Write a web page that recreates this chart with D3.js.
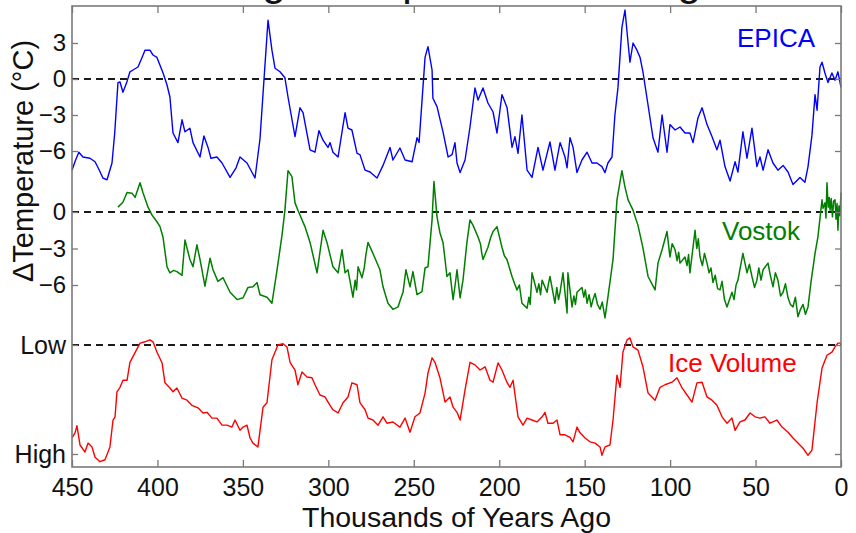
<!DOCTYPE html>
<html>
<head>
<meta charset="utf-8">
<script src="https://cdn.jsdelivr.net/npm/d3@7"></script>
<style>
  body { margin: 0; background: #fff; }
  svg { display: block; font-family: 'Liberation Sans', Arial, sans-serif; }
  .tick text { fill: #111; }
</style>
</head>
<body>
<div id="chart"></div>
<script>
// Years ago (thousands) and values
var xTicks = [450, 400, 350, 300, 250, 200, 150, 100, 50, 0]
var epicaTicks = [3, 0, -3, -6]
var vostokTicks = [0, -3, -6]
var iceTicks = [3.3, 5.0]
var iceTickLabels = ['Low', 'High']

// EPICA Dome C, temperature anomaly (deg C)
var epica = [
  [450, -7.6], [448, -6.8], [446, -6.1], [443.6, -6.5], [439.5, -6.6], [436.5, -6.9], [434, -7.6],
  [431.9, -8.25], [429.5, -8.4], [426.6, -7.0], [425, -4.5], [423.1, -0.3], [421.9, -0.25], [420.2, -1.1],
  [418, -0.3], [416.1, 0.6], [414.3, 0.75], [411.4, 1.0], [409, 1.8], [407.3, 2.4], [404.4, 2.4],
  [402.6, 2.0], [400.3, 1.8], [396.7, 0.5], [394.4, -0.5], [392.7, -1.5], [390.9, -4.5], [388, -5.3],
  [385.6, -3.4], [383.9, -4.4], [381, -4.1], [379.2, -5.3], [375.1, -6.5], [372.8, -4.75], [370.4, -5.7],
  [368.7, -6.6], [365.2, -6.5], [362.2, -7.0], [357.5, -8.2], [354, -7.4], [351.7, -6.5], [347.6, -7.0],
  [342.9, -8.25], [340, -5], [338.2, -1.2], [335.3, 4.9], [333, 2.4], [331.2, 0.9], [328.3, 0.6],
  [325.4, 0.1], [323.6, -1.5], [319.5, -4.8], [316.6, -2.4], [314.8, -2.8], [310.7, -5.9], [307.8, -6.1],
  [305.5, -4.3], [303.1, -5.1], [300.2, -5.7], [299, -5.3], [297.3, -6.1], [294.3, -6.5], [290.2, -2.8],
  [288.5, -4.1], [286.2, -4.25], [283.2, -6.2], [281.5, -6.3], [278.5, -7.6], [275.6, -7.75], [271.5, -8.25],
  [268, -7.2], [263.9, -5.7], [262.2, -6.75], [258.1, -5.75], [255.1, -6.75], [251, -6.9], [248.1, -4.9],
  [246.9, -5.3], [243.4, 1.8], [241.7, 2.7], [239.3, 0.75], [238.8, -1.6], [236.4, -2.3], [232.9, -4.4],
  [229.9, -6.5], [227.6, -6.3], [225.9, -5.3], [224.7, -7.0], [222.9, -7.8], [220, -6.75], [217.1, -4.0],
  [214.2, -0.75], [212.4, -1.75], [209.5, -0.75], [206.6, -2.0], [203.6, -2.75], [201.3, -4.5], [198.4, -1.3],
  [195.4, -2.4], [192.5, -5.7], [190.8, -4.8], [189, -6.2], [186.7, -3.0], [183.7, -7.6], [180.8, -8.2],
  [177.3, -5.7], [174.4, -7.6], [170.3, -5.25], [167.4, -7.6], [164.4, -5.3], [161.5, -6.5], [160.3, -7.4],
  [158.6, -4.9], [156.8, -5.7], [154.5, -7.8], [151.6, -6.75], [148.6, -6.1], [145.7, -7.0], [142.8, -7.0],
  [139.9, -7.3], [138.1, -7.8], [136.4, -7.0], [134, -6.5], [132.3, -3.0], [130.5, -0.7], [128.2, 4.3],
  [126.4, 5.75], [124.6, 3.0], [123.5, 1.4], [121.7, 3.0], [119.4, 2.4], [117.6, 1.8], [115.9, 0.6],
  [113.1, -2.0], [110, -4.9], [107.1, -6.1], [104.7, -3.0], [101.8, -6.1], [100.1, -3.8], [97.1, -4.25],
  [94.2, -4.0], [91.3, -4.5], [88.4, -4.5], [86.6, -5.3], [83.7, -3.25], [81.3, -2.4], [78.4, -3.8],
  [75.5, -4.8], [72.6, -5.9], [70.8, -5.1], [67.9, -7.3], [64.9, -8.5], [62, -6.9], [60.3, -7.75],
  [57.4, -4.4], [55, -6.6], [52.1, -4.1], [49.2, -7.3], [47.4, -6.5], [45.6, -7.6], [42.7, -5.9],
  [39.8, -7.0], [36.9, -7.6], [33.9, -7.2], [31, -7.75], [28.1, -8.8], [24, -8.2], [21.1, -8.6],
  [19.3, -7.3], [17, -4.7], [15.2, -1.3], [14, -2.6], [12.3, 1.0], [11.1, 1.4], [9.4, 0.5],
  [7.6, -0.3], [5.3, 0.5], [3.5, -0.1], [1.8, 0.6], [0, -0.7]
]

// Vostok, temperature anomaly (deg C)
var vostok = [
  [423.1, 0.4], [420.2, 0.8], [417.8, 1.6], [414.9, 1.55], [413.1, 1.2], [410.2, 2.4], [408.5, 1.6],
  [405.5, 0.4], [403.2, -0.25], [400.3, -0.8], [398.5, -1.2], [396.7, -2.1], [394.4, -4.5], [392.7, -5.0],
  [390.5, -4.8], [388.6, -4.9], [385.6, -5.2], [383.9, -2.3], [381, -3.9], [379.2, -4.5], [376.9, -2.7],
  [375.1, -3.9], [372.2, -6.1], [369.2, -3.8], [367.5, -4.75], [364.6, -5.7], [361.6, -5.4], [357.5, -6.6],
  [353.4, -7.2], [349.9, -7.05], [347, -6.2], [344.1, -6.15], [341.7, -5.8], [340, -6.8], [335.9, -7.0],
  [333, -7.5], [330, -4.75], [327.1, -1.9], [325.4, 0.15], [323.6, 3.4], [321.3, 2.9], [319.5, 0.75],
  [317.8, 0.15], [313.7, -1.2], [310.7, -2.5], [306.6, -5.0], [303.1, -1.5], [300.8, -2.5], [297.3, -4.5],
  [294.3, -5.0], [292, -3.1], [290.2, -5.0], [288.5, -4.75], [285.6, -7.0], [284.3, -5.6], [283.5, -6.4],
  [282.6, -4.5], [280.3, -5.4], [279, -4.6], [278, -3.5], [276.8, -2.5], [273.9, -3.4], [269.8, -4.75],
  [268, -6.15], [265.1, -7.5], [262.2, -8.0], [259.2, -7.8], [257.8, -7.2], [256.3, -6.6], [254.6, -4.75],
  [253.5, -5.4], [252.2, -6.15], [250.5, -4.9], [248.1, -6.8], [245.2, -6.55], [243.4, -4.6], [241.7, -4.5],
  [239.3, -0.65], [238.2, 2.5], [236.4, -0.4], [234.7, -1.7], [232.9, -2.5], [231.8, -3.8], [230.6, -5.3],
  [228.8, -5.0], [227, -7.2], [225.8, -6.0], [224.7, -4.75], [222.9, -7.05], [221.2, -5.6], [218.9, -2.5],
  [217.1, -0.65], [215.3, -1.1], [212.4, -2.05], [211, -2.6], [210.2, -3.4], [209.5, -3.9], [206.6, -2.9],
  [205, -2.1], [203.6, -1.6], [201.3, -1.2], [198.4, -2.9], [197, -3.6], [195.5, -3.9], [192.5, -5.3],
  [191, -5.9], [189.6, -6.4], [188.2, -6.0], [186.7, -7.5], [183.7, -7.9], [182.6, -7.0], [181.9, -7.6],
  [180.8, -5.0], [177.9, -6.6], [176.8, -5.9], [175.8, -6.8], [174.9, -5.6], [172, -6.6], [171.2, -5.9],
  [170.3, -5.3], [167.4, -7.5], [166.3, -6.2], [165.3, -7.2], [164.4, -6.6], [162.7, -5.0], [160.3, -8.3],
  [159.8, -5.0], [157.4, -7.8], [156.3, -6.9], [155.4, -7.6], [154.5, -6.6], [151.6, -6.2], [150.5, -7.0],
  [149.6, -6.4], [148.6, -7.5], [147.4, -6.8], [146.2, -7.8], [145.1, -7.2], [143.9, -6.7], [142.5, -7.6],
  [141, -8.0], [139.7, -7.4], [138.1, -8.7], [136.4, -7.0], [133.4, -3.9], [131.1, 1.0], [128.2, 3.4],
  [126.4, 2.05], [124.6, 1.0], [121.7, 0.15], [118.8, -1.1], [115.9, -2.95], [112.9, -5.3], [108.8, -6.4],
  [107.1, -4.2], [104.7, -3.1], [101.8, -1.6], [100.1, -3.7], [98.8, -2.6], [97.1, -3.1], [95.9, -4.0],
  [95, -3.3], [94.2, -4.2], [91.3, -3.7], [90.1, -4.4], [89.2, -3.5], [88.4, -5.0], [85.4, -1.5],
  [84.4, -3.0], [83.5, -2.2], [82.5, -3.7], [81.1, -4.4], [79.9, -3.4], [78.4, -4.2], [77.2, -5.0],
  [76.1, -4.6], [74.9, -5.8], [73.6, -5.2], [72.2, -6.3], [70.8, -6.4], [69.6, -5.7], [68.2, -7.2],
  [66.7, -7.8], [63.8, -6.6], [62.6, -7.2], [61.4, -6.0], [60.3, -5.6], [57.4, -3.4], [55, -5.0],
  [53.6, -4.3], [52.1, -5.3], [50.6, -6.2], [49.2, -5.6], [48.1, -4.6], [46.8, -5.6], [45.6, -4.75],
  [42.7, -4.2], [41.5, -5.1], [39.8, -6.15], [38.4, -5.0], [36.9, -5.6], [35.4, -6.9], [33.9, -6.6],
  [32.5, -5.9], [31, -7.05], [29.6, -7.6], [28.1, -7.8], [26.7, -7.0], [25.2, -8.6], [23.7, -8.0],
  [22.2, -7.6], [20.8, -8.4], [19.3, -7.8], [17.6, -5.8], [15.2, -3.4], [13.5, -2.05], [11.1, 1.0],
  [10.5, 0.3], [9.4, 0.75], [8.8, -0.5], [8.2, 2.4], [7.5, 0.4], [6.9, 1.2], [6.4, 0.15],
  [5.7, 1.1], [5.0, -0.4], [4.3, 0.9], [3.5, 1.0], [2.9, -0.6], [2.3, 0.7], [1.8, -1.5],
  [1.2, 0.5], [0.6, -0.3], [0, 1.6]
]

// Ice volume (benthic d18O, per mil; low = little ice)
var iceVolume = [
  [450, 4.75], [448.2, 4.67], [447.1, 4.56], [445.3, 4.86], [442.4, 4.97], [440.6, 4.83], [438.3, 4.89],
  [436.5, 5.05], [433.6, 5.12], [430.7, 5.09], [427.8, 4.89], [426, 4.47], [424.8, 4.42], [423.7, 4.03],
  [421.9, 3.96], [420.2, 3.85], [417.8, 3.85], [416.1, 3.57], [413.1, 3.42], [410.2, 3.27], [407.3, 3.25],
  [404.4, 3.22], [402.6, 3.25], [400.3, 3.41], [397.3, 3.58], [395.6, 3.89], [392.7, 3.97], [390.9, 4.03],
  [388.6, 3.97], [385.6, 4.13], [382.7, 4.16], [379.8, 4.24], [376.3, 4.28], [373.3, 4.36], [371, 4.35],
  [368.1, 4.44], [365.2, 4.44], [362.2, 4.55], [359.3, 4.55], [356.4, 4.58], [354.6, 4.47], [351.7, 4.63],
  [349.9, 4.58], [347.6, 4.55], [345.8, 4.75], [344.1, 4.83], [341.2, 4.89], [338.2, 4.27], [335.9, 4.2],
  [333, 3.53], [329.5, 3.3], [326.5, 3.28], [324.2, 3.33], [322.4, 3.57], [319.5, 3.69], [317.8, 3.92],
  [315.4, 3.72], [312.5, 3.8], [309.6, 3.81], [307.8, 3.92], [304.9, 4.08], [302, 4.11], [299, 4.24],
  [297.3, 4.31], [294.3, 4.36], [291.4, 4.2], [288.5, 4.11], [286.2, 3.89], [283.2, 3.92], [281.5, 4.2],
  [278.5, 4.31], [276.8, 4.44], [273.9, 4.47], [270.9, 4.55], [268, 4.42], [265.7, 4.52], [262.2, 4.5],
  [258.1, 4.58], [255.1, 4.44], [252.2, 4.66], [249.3, 4.42], [246.4, 4.36], [243.4, 4.05], [241.7, 3.74],
  [239.3, 3.5], [237.6, 3.57], [234.7, 3.81], [231.7, 4.19], [228.8, 4.11], [227, 4.27], [224.7, 4.35],
  [222.9, 4.47], [220, 4.0], [217.1, 3.57], [214.2, 3.61], [211.2, 3.69], [208.3, 3.64], [205.4, 3.85],
  [203.6, 3.88], [200.7, 3.58], [198.4, 3.69], [195.5, 3.88], [193.7, 3.96], [191.9, 3.85], [189, 4.42],
  [186.1, 4.55], [183.7, 4.44], [180.8, 4.47], [177.9, 4.5], [174.9, 4.42], [173.2, 4.35], [171.5, 4.52],
  [168.5, 4.52], [166.2, 4.47], [164.4, 4.7], [161.5, 4.7], [158.6, 4.74], [156.8, 4.81], [154.5, 4.58],
  [152.7, 4.67], [149.8, 4.75], [146.9, 4.81], [143.9, 4.83], [141, 4.89], [139.9, 5.02], [138.1, 4.89],
  [135.2, 4.86], [133.4, 4.47], [131.1, 3.77], [129.3, 3.96], [127.6, 3.41], [125.2, 3.22], [123.5, 3.19],
  [121.7, 3.33], [118.8, 3.38], [115.9, 3.64], [112.9, 4.05], [108.8, 4.16], [105.9, 3.96], [103, 3.92],
  [98.9, 3.88], [96, 3.81], [93, 3.97], [90.1, 4.08], [87.2, 4.19], [84.3, 3.89], [81.3, 3.88],
  [78.4, 4.11], [75.5, 4.16], [72.6, 4.24], [69.6, 4.42], [66.7, 4.52], [63.8, 4.44], [62, 4.63],
  [59.1, 4.5], [56.2, 4.47], [53.2, 4.36], [50.3, 4.42], [47.4, 4.44], [44.5, 4.42], [41.6, 4.52],
  [37.5, 4.47], [34.5, 4.58], [31, 4.66], [28.1, 4.75], [25.2, 4.83], [22.2, 4.91], [19.3, 5.02],
  [17, 4.94], [14, 4.2], [11.1, 3.66], [8.2, 3.46], [5.3, 3.41], [3.5, 3.33], [1.8, 3.27], [0, 3.27]
]

var width = 856
var height = 533
var margin = { top: 6, right: 15, bottom: 66, left: 72 }
var plotRight = width - margin.right
var plotBottom = height - margin.bottom

var svg = d3.select('#chart').append('svg')
  .attr('width', width)
  .attr('height', height)

var x = d3.scaleLinear()
  .domain([450, 0])
  .range([margin.left, plotRight])

// three stacked panels share one frame
var yEpica = d3.scaleLinear().domain([-6, 3]).range([151, 43])
var yVostok = d3.scaleLinear().domain([-6, 0]).range([285, 212])
var yIce = d3.scaleLinear().domain([3.3, 5.0]).range([345, 454])

var axisColor = '#7a7a7a'
var tickFont = 24

// title sits above the window, only descenders show
svg.append('text')
  .attr('x', (margin.left + plotRight) / 2)
  .attr('y', -5)
  .attr('text-anchor', 'middle')
  .attr('font-size', 43)
  .attr('fill', '#111')
  .text('Ice Age Temperature Changes')

// dashed reference lines
var refs = [yEpica(0), yVostok(0), yIce(3.3)]
svg.selectAll('.ref').data(refs)
  .enter().append('line')
  .attr('class', 'ref')
  .attr('x1', margin.left)
  .attr('x2', plotRight)
  .attr('y1', function (d) { return d })
  .attr('y2', function (d) { return d })
  .attr('stroke', '#1a1a1a')
  .attr('stroke-width', 2)
  .attr('stroke-dasharray', '7,5')

function drawSeries(data, y, color, w) {
  var line = d3.line()
    .x(function (d) { return x(d[0]) })
    .y(function (d) { return y(d[1]) })
  svg.append('path')
    .datum(data)
    .attr('d', line)
    .attr('fill', 'none')
    .attr('stroke', color)
    .attr('stroke-width', w)
    .attr('stroke-linejoin', 'round')
}

drawSeries(epica, yEpica, '#0000ff', 1.4)
drawSeries(vostok, yVostok, '#007f00', 1.5)
drawSeries(iceVolume, yIce, '#ff0000', 1.4)

// axes, ticks pointing inward like matlab
function styleAxis(g) {
  g.select('.domain').remove()
  g.selectAll('.tick line').attr('stroke', axisColor).attr('stroke-width', 1.3)
  g.selectAll('.tick text').attr('font-size', tickFont).attr('font-family', null)
}

var leftAxes = [
  { scale: yEpica, ticks: epicaTicks, fmt: d3.format('') },
  { scale: yVostok, ticks: vostokTicks, fmt: d3.format('') },
  { scale: yIce, ticks: iceTicks, fmt: function (d, i) { return iceTickLabels[i] } }
]

leftAxes.forEach(function (a) {
  svg.append('g')
    .attr('transform', 'translate(' + margin.left + ',0)')
    .call(d3.axisLeft(a.scale).tickValues(a.ticks).tickFormat(a.fmt).tickSizeInner(-6).tickSizeOuter(0).tickPadding(6))
    .call(styleAxis)
  svg.append('g')
    .attr('transform', 'translate(' + plotRight + ',0)')
    .call(d3.axisRight(a.scale).tickValues(a.ticks).tickFormat('').tickSizeInner(-6).tickSizeOuter(0))
    .call(styleAxis)
})

svg.selectAll('.tick text')
  .filter(function (d) { return d === 3.3 || d === 5.0 })
  .attr('font-size', 25)

svg.append('g')
  .attr('transform', 'translate(0,' + plotBottom + ')')
  .call(d3.axisBottom(x).tickValues(xTicks).tickSizeInner(-7).tickSizeOuter(0).tickPadding(11))
  .call(styleAxis)
  .selectAll('.tick text').attr('font-size', 25)

svg.append('g')
  .attr('transform', 'translate(0,' + margin.top + ')')
  .call(d3.axisTop(x).tickValues(xTicks).tickFormat('').tickSizeInner(-7).tickSizeOuter(0))
  .call(styleAxis)

svg.append('rect')
  .attr('x', margin.left)
  .attr('y', margin.top)
  .attr('width', plotRight - margin.left)
  .attr('height', plotBottom - margin.top)
  .attr('fill', 'none')
  .attr('stroke', axisColor)
  .attr('stroke-width', 1.6)

// series labels
var labels = [
  { text: 'EPICA', x: 737, y: 47, color: '#0000ff' },
  { text: 'Vostok', x: 722, y: 240, color: '#007f00' },
  { text: 'Ice Volume', x: 668, y: 372, color: '#ff0000' }
]
svg.selectAll('.label').data(labels)
  .enter().append('text')
  .attr('class', 'label')
  .attr('x', function (d) { return d.x })
  .attr('y', function (d) { return d.y })
  .attr('font-size', 26)
  .attr('fill', function (d) { return d.color })
  .text(function (d) { return d.text })

// axis titles
svg.append('text')
  .attr('x', (margin.left + plotRight) / 2)
  .attr('y', 526.5)
  .attr('text-anchor', 'middle')
  .attr('font-size', 28.5)
  .attr('fill', '#111')
  .text('Thousands of Years Ago')

svg.append('text')
  .attr('transform', 'translate(33,161) rotate(-90)')
  .attr('text-anchor', 'middle')
  .attr('font-size', 29)
  .attr('fill', '#111')
  .text('\u0394Temperature (\u00B0C)')
</script>
</body>
</html>
